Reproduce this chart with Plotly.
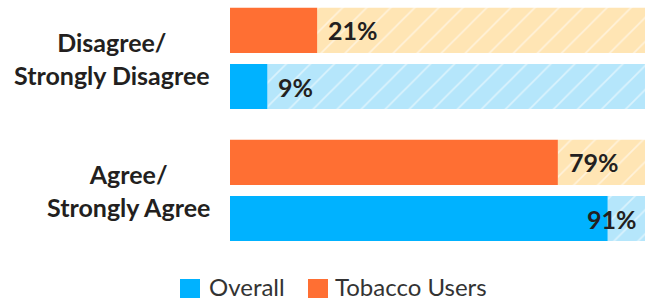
import plotly.graph_objects as go

categories = ["Agree/<br>Strongly Agree", "Disagree/<br>Strongly Disagree"]
cat_keys = ["Agree", "Disagree"]
overall = [91, 9]
tobacco = [79, 21]
series_names = ["Overall", "Tobacco Users"]

BLUE = "#00B2FF"
BLUE_LIGHT = "#B5E6FB"
ORANGE = "#FF6F33"
ORANGE_LIGHT = "#FFE5B4"
FONT = "Lato"
BARGAP = 0.15
GROUPGAP = 0.196
LABEL_ROOM = 14  # axis units needed for a value label after the bar

fig = go.Figure()

series = [(overall, BLUE, BLUE_LIGHT, "o"), (tobacco, ORANGE, ORANGE_LIGHT, "t")]

for vals, color, light, group in series:
    rest = [100 - v for v in vals]
    fig.add_trace(go.Bar(
        y=cat_keys, x=rest, base=vals, orientation="h", offsetgroup=group,
        marker=dict(color=light, line=dict(width=0),
                    pattern=dict(shape="/", fgcolor="white", bgcolor=light,
                                 size=17, solidity=0.1)),
        showlegend=False, hoverinfo="skip"))

for vals, color, light, group in series:
    fig.add_trace(go.Bar(
        y=cat_keys, x=vals, orientation="h", offsetgroup=group,
        marker=dict(color=color, line=dict(width=0)),
        showlegend=False, hoverinfo="skip"))

annotations = []

# value labels placed at the bar ends (category index +/- group offset)
slot = (1 - BARGAP) / 2
for s_idx, (vals, color, light, group) in enumerate(series):
    offset = (s_idx - 0.5) * slot
    for i, v in enumerate(vals):
        fits = v + LABEL_ROOM <= 100
        annotations.append(dict(
            x=v if fits else 100, xref="x", y=i + offset, yref="y",
            xanchor="left" if fits else "right", yanchor="middle",
            xshift=9 if fits else -6, text=f"<b>{v}%</b>", showarrow=False,
            font=dict(family=FONT, size=25, color="#231F20")))

for key, lab in zip(cat_keys, categories):
    annotations.append(dict(
        x=-0.0434, xref="paper", y=key, yref="y", xanchor="right", yanchor="middle",
        align="center", text=f"<b>{lab}</b>", showarrow=False, yshift=0,
        font=dict(family=FONT, size=25, color="#231F20")))

shapes = []
legend_items = [(series_names[0], BLUE, -0.1205, -0.0554), (series_names[1], ORANGE, 0.188, 0.248)]
for name, col, x0, tx in legend_items:
    shapes.append(dict(type="rect", xref="paper", yref="paper", x0=x0, x1=x0 + 0.0482,
                       y0=-0.192, y1=-0.116, fillcolor=col, line=dict(width=0)))
    annotations.append(dict(x=tx, xref="paper", y=-0.146, yref="paper", xanchor="left",
                            yanchor="middle", text=name, showarrow=False,
                            font=dict(family=FONT, size=24, color="#333333")))

fig.update_layout(
    width=654, height=300,
    margin=dict(l=230, r=9, t=0, b=50),
    barmode="group", bargap=BARGAP, bargroupgap=GROUPGAP,
    plot_bgcolor="white", paper_bgcolor="white",
    xaxis=dict(range=[0, 100], visible=False, fixedrange=True),
    yaxis=dict(type="category", categoryorder="array", categoryarray=cat_keys,
               range=[-0.451, 1.443], showticklabels=False, showgrid=False,
               zeroline=False, fixedrange=True),
    annotations=annotations, shapes=shapes, showlegend=False,
)

fig.write_html("out.html", config={"displayModeBar": False},
               post_script="document.body.style.margin='0';document.body.style.overflow='hidden';")
